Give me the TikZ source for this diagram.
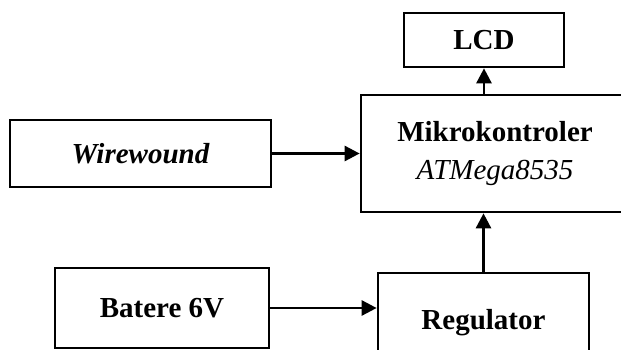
\documentclass[tikz,border=0pt]{standalone}
\usepackage{fontspec}
\setmainfont{Liberation Serif}
\usetikzlibrary{arrows.meta,positioning}

\begin{document}
\begin{tikzpicture}[x=1pt,y=-1pt,
    blok/.style={draw,line width=2.7pt,inner sep=0pt,align=center,
        font=\fontsize{29}{38}\selectfont\bfseries},
    panah/.style={line width=2.7pt,-{Triangle[length=15pt,width=15pt]}}]
    \useasboundingbox (0,0) rectangle (621,350);

    % blok blok
    \node[blok,minimum width=160,minimum height=54] (lcd) at (484,40) {LCD};
    \node[blok,minimum width=268,minimum height=117] (mikro) at (495,153.5)
        {Mikrokontroler\\\mdseries\itshape ATMega8535};
    \node[blok,minimum width=261,minimum height=67] (wire) at (140.5,153.5) {\itshape Wirewound};
    \node[blok,minimum width=214,minimum height=80] (batere) at (162,308) {Batere 6V};
    \node[blok,minimum width=211,minimum height=100] (regulator) at (483.5,323) {Regulator};

    % panah
    \draw[panah] (wire.east) -- (wire.east -| mikro.west);
    \draw[panah] (batere.east) -- (batere.east -| regulator.west);
    \draw[panah] (regulator.north) -- (regulator.north |- mikro.south);
    \draw[panah] (mikro.north -| lcd.south) -- (lcd.south);
\end{tikzpicture}
\end{document}
